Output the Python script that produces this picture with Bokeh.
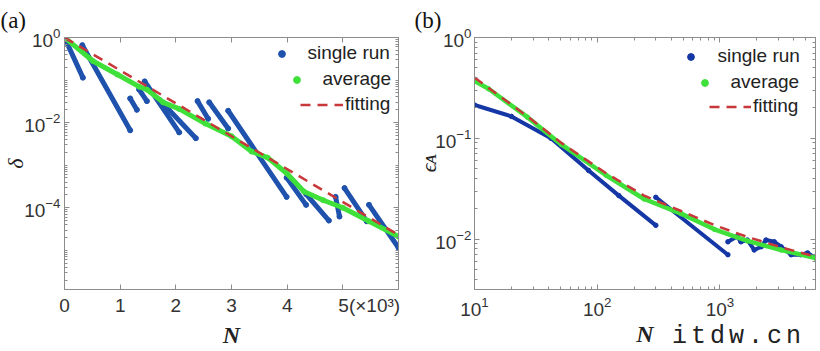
from bokeh.plotting import figure
from bokeh.layouts import row
from bokeh.models import (Legend, LegendItem, FixedTicker, LinearAxis, LogAxis,
                          Range1d, CustomJSTickFormatter, Title, Div)
from bokeh.embed import file_html
from bokeh.resources import INLINE

# ---------------- data: panel (a)  (N in units of 10^3) ----------------
a_run_N0 = [0.00, 0.32, 1.18, 1.34, 1.44, 1.71, 2.39, 2.60, 2.94, 3.99, 4.34, 4.87, 5.03, 5.47]
a_run_N1 = [0.33, 1.18, 1.30, 1.48, 2.06, 2.36, 2.58, 2.94, 3.99, 4.34, 4.75, 4.94, 5.43, 6.00]
a_run_d0 = [1.0, 0.66, 0.037, 0.060, 0.093, 0.034, 0.032, 0.030, 0.019, 5.1e-4, 2.1e-4, 1.8e-4, 2.9e-4, 1.17e-4]
a_run_d1 = [0.114, 0.0066, 0.020, 0.032, 0.0059, 0.0043, 0.0123, 0.0073, 1.8e-4, 1.17e-4, 5.0e-5, 6.2e-5, 4.8e-5, 1.15e-5]

a_avg_N = [0.00, 0.51, 0.95, 1.34, 1.48, 1.77, 2.06, 2.53, 3.00, 3.36, 3.65, 4.00, 4.30, 4.65, 5.00, 5.47, 6.00]
a_avg_d = [1.0, 0.28, 0.135, 0.070, 0.060, 0.030, 0.021, 0.0095, 0.0048, 0.0021, 0.0015, 6.3e-4, 2.4e-4, 1.5e-4, 1.0e-4, 4.8e-5, 2.1e-5]

a_fit_N = [0.0, 6.0]
a_fit_d = [1.0, 2.3e-5]

a_xticks = [0, 1, 2, 3, 4, 5]
a_xlabels = {5: "\u00a0" * 10 + "5(×10³)"}
a_yticks = [1.0, 1e-2, 1e-4]

# ---------------- data: panel (b) ----------------
b_run_N = [[10, 20, 42, 85, 150, 300],
           [300, 1160],
           [1160, 1380, 1480, 1670, 1900, 2170, 2370, 2770, 3150, 3800, 4560, 5170, 6000]]
b_run_e = [[0.214, 0.165, 0.10, 0.048, 0.027, 0.0137],
           [0.026, 0.0070],
           [0.0094, 0.0106, 0.0094, 0.0098, 0.0078, 0.0084, 0.0098, 0.0094, 0.0084, 0.0070, 0.0070, 0.0073, 0.0065]]

b_avg_N = [10, 13, 27, 51, 118, 241, 482, 899, 1670, 3150, 6000]
b_avg_e = [0.37, 0.31, 0.162, 0.087, 0.043, 0.025, 0.0179, 0.0125, 0.0096, 0.0078, 0.0065]

b_fit_N = [10, 27, 51, 118, 241, 482, 899, 1670, 3150, 6000]
b_fit_e = [0.40, 0.165, 0.090, 0.045, 0.027, 0.019, 0.0138, 0.0105, 0.0083, 0.0067]

b_xticks = [10, 100, 1000]
b_yticks = [1e-2, 1e-1, 1.0]

legend_labels = ["single run", "average", "fitting"]

# ---------------- styles ----------------
BLUE_A = "#1f52ad"
BLUE_B = "#1537a6"
GREEN = "#3fe03a"
RED = "#c8383a"
GREY = "#8c8c8c"
TXT = "#333333"
SANS = "Liberation Sans"
SERIF = "Liberation Serif"


def minor_log(lo_exp, hi_exp, lo=None, hi=None):
    out = []
    for k in range(lo_exp, hi_exp + 1):
        for m in range(1, 10):
            v = m * 10.0 ** k
            if (lo is None or v >= lo) and (hi is None or v <= hi):
                out.append(v)
    return out


def style_axis(ax, show_labels=True):
    ax.axis_line_color = GREY
    ax.major_tick_line_color = GREY
    ax.minor_tick_line_color = GREY
    ax.major_tick_in = 5
    ax.major_tick_out = 0
    ax.minor_tick_in = 3
    ax.minor_tick_out = 0
    ax.major_label_text_font = SANS
    ax.major_label_text_color = TXT
    ax.major_label_text_font_size = "19px"
    ax.axis_label_text_color = "#222222"
    ax.axis_label_text_font = SERIF
    if not show_labels:
        ax.formatter = CustomJSTickFormatter(code="return ''")
        ax.major_label_standoff = 0


def legend(p, rend, text, fl, fb, box_left, cy, gw, standoff, gh=17, h=22):
    leg = Legend(items=[LegendItem(label=text, renderers=[rend])],
                 location=(box_left - fl, fb - cy - h / 2),
                 border_line_alpha=0, background_fill_alpha=0, padding=0, margin=0, spacing=0,
                 label_text_font=SANS, label_text_font_size="19px", label_text_color="#222222",
                 glyph_width=gw, glyph_height=gh, label_standoff=standoff, label_height=16)
    p.add_layout(leg)


def panel_title(p, text, offset):
    p.add_layout(Title(text=text, align="left", offset=offset, standoff=10, text_font=SERIF,
                       text_font_size="23px", text_font_style="normal", text_color="#111111"), "above")


# ---------------- panel (a) ----------------
A_W, H = 413, 351
A_FL, A_FT, A_FR, A_FB = 56, 35, 398, 293
p1 = figure(width=A_W, height=H, x_range=Range1d(0, 6), y_range=Range1d(1.2e-6, 1.0),
            y_axis_type="log", output_backend="svg", toolbar_location=None,
            min_border_left=A_FL, min_border_right=A_W - A_FR, min_border_top=A_FT,
            min_border_bottom=H - A_FB)
p1.grid.visible = False
p1.outline_line_color = GREY
p1.background_fill_color = "white"
p1.border_fill_color = "white"

a_xt = FixedTicker(ticks=a_xticks, minor_ticks=[])
a_yt = FixedTicker(ticks=a_yticks, minor_ticks=minor_log(-6, -1, lo=1.2e-6))
p1.xaxis.ticker = a_xt
p1.yaxis.ticker = a_yt
style_axis(p1.xaxis[0])
style_axis(p1.yaxis[0])
p1.xaxis.major_label_overrides = a_xlabels
p1.xaxis.major_label_standoff = 5
p1.yaxis.major_label_standoff = 4
p1.xaxis.axis_label = "N"
p1.xaxis.axis_label_text_font_style = "bold italic"
p1.xaxis.axis_label_text_font_size = "24px"
p1.xaxis.axis_label_standoff = 3
p1.yaxis.axis_label = "δ"
p1.yaxis.axis_label_text_font_style = "italic"
p1.yaxis.axis_label_text_font_size = "22px"
p1.yaxis.axis_label_standoff = -7
top_a = LinearAxis(ticker=a_xt)
right_a = LogAxis(ticker=a_yt)
style_axis(top_a, False)
style_axis(right_a, False)
p1.add_layout(top_a, "above")
p1.add_layout(right_a, "right")
panel_title(p1, "(a)", -A_FL - 8)

p1.segment(x0=a_run_N0, y0=a_run_d0, x1=a_run_N1, y1=a_run_d1, line_color=BLUE_A, line_width=5,
           line_cap="round")
run_a = p1.scatter(x=a_run_N0 + a_run_N1, y=a_run_d0 + a_run_d1, size=5, color=BLUE_A)
p1.line(a_avg_N, a_avg_d, line_color=GREEN, line_width=5, line_join="round")
avg_a = p1.scatter(x=a_avg_N, y=a_avg_d, size=5, color=GREEN)
fit_a = p1.line(a_fit_N, a_fit_d, line_color=RED, line_width=2.5, line_dash="10 7")

legend(p1, run_a, legend_labels[0], A_FL, A_FB, 264.5, 57, 17, 18)
legend(p1, avg_a, legend_labels[1], A_FL, A_FB, 279.5, 83, 17, 18)
legend(p1, fit_a, legend_labels[2], A_FL, A_FB, 292, 108, 43, 2)

# ---------------- panel (b) ----------------
OFF = A_W
B_W = 820 - A_W
B_FL, B_FT, B_FR, B_FB = 473 - OFF, 35, 815 - OFF, 289
p2 = figure(width=B_W, height=H, x_range=Range1d(10, 6000), y_range=Range1d(10 ** -2.5, 1.0),
            x_axis_type="log", y_axis_type="log", output_backend="svg", toolbar_location=None,
            min_border_left=B_FL, min_border_right=B_W - B_FR, min_border_top=B_FT,
            min_border_bottom=H - B_FB)
p2.grid.visible = False
p2.outline_line_color = GREY
p2.background_fill_color = "white"
p2.border_fill_color = "white"

b_xt = FixedTicker(ticks=b_xticks, minor_ticks=minor_log(1, 3, lo=10, hi=6000))
b_yt = FixedTicker(ticks=b_yticks, minor_ticks=minor_log(-3, -1, lo=10 ** -2.5))
p2.xaxis.ticker = b_xt
p2.yaxis.ticker = b_yt
style_axis(p2.xaxis[0])
style_axis(p2.yaxis[0])
p2.xaxis.major_label_standoff = 7
p2.yaxis.major_label_standoff = 3
p2.xaxis.axis_label = "N"
p2.xaxis.axis_label_text_font_style = "bold italic"
p2.xaxis.axis_label_text_font_size = "24px"
p2.xaxis.axis_label_standoff = 2
p2.yaxis.axis_label = "ϵᴀ"
p2.yaxis.axis_label_text_font_style = "italic"
p2.yaxis.axis_label_text_font_size = "22px"
p2.yaxis.axis_label_standoff = -9
top_b = LogAxis(ticker=b_xt)
right_b = LogAxis(ticker=b_yt)
style_axis(top_b, False)
style_axis(right_b, False)
p2.add_layout(top_b, "above")
p2.add_layout(right_b, "right")
panel_title(p2, "(b)", -B_FL)

p2.multi_line(xs=b_run_N, ys=b_run_e, line_color=BLUE_B, line_width=4, line_cap="round")
run_b = p2.scatter(x=sum(b_run_N, []), y=sum(b_run_e, []), size=4.5, color=BLUE_B)
p2.line(b_avg_N, b_avg_e, line_color=GREEN, line_width=4.5, line_join="round")
avg_b = p2.scatter(x=b_avg_N, y=b_avg_e, size=4.5, color=GREEN)
fit_b = p2.line(b_fit_N, b_fit_e, line_color=RED, line_width=2.5, line_dash="10 7")

legend(p2, run_b, legend_labels[0], B_FL, B_FB, 680.5 - OFF, 56, 17, 19)
legend(p2, avg_b, legend_labels[1], B_FL, B_FB, 694.5 - OFF, 82, 17, 18)
legend(p2, fit_b, legend_labels[2], B_FL, B_FB, 708 - OFF, 106, 42, 2)

watermark = Div(text="itdw.cn", styles={
    "position": "absolute", "left": "667px", "top": "318px", "width": "146px", "height": "28px",
    "font-family": "Liberation Mono", "font-size": "25px", "line-height": "28px",
    "letter-spacing": "4px", "color": "#222222", "white-space": "nowrap", "z-index": "10"})

layout = row(p1, p2, watermark)
open("out.html", "w").write(file_html(layout, INLINE))
